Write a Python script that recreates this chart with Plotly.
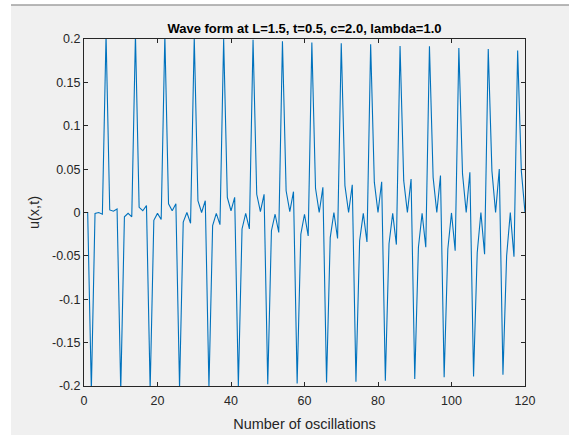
import plotly.graph_objects as go

# ---- data ----
x_vals = list(range(0, 121))
u_vals = [
    0.0, 0.0, -0.205, -0.001, 0.0, -0.002,
    0.205, 0.003, 0.0015, 0.004, -0.205, -0.005, -0.001, -0.005,
    0.205, 0.006, 0.002, 0.008, -0.204, -0.009, -0.001, -0.008,
    0.204, 0.010, 0.002, 0.010, -0.202, -0.011, 0.0, -0.0125,
    0.202, 0.0136, 0.0, 0.0136, -0.201, -0.015, -0.001, -0.014,
    0.200, 0.0175, 0.002, 0.0175, -0.200, -0.019, -0.001, -0.019,
    0.199, 0.021, 0.001, 0.021, -0.198, -0.021, -0.002, -0.023,
    0.1974, 0.025, 0.001, 0.024, -0.197, -0.025, -0.002, -0.027,
    0.196, 0.028, 0.0, 0.029, -0.196, -0.029, 0.0, -0.030,
    0.195, 0.031, 0.0, 0.032, -0.195, -0.0325, -0.001, -0.034,
    0.194, 0.035, 0.0, 0.0355, -0.194, -0.036, -0.001, -0.037,
    0.192, 0.0367, 0.0, 0.0386, -0.192, -0.040, -0.001, -0.040,
    0.1916, 0.0405, 0.0, 0.0425, -0.190, -0.042, -0.0005, -0.044,
    0.1897, 0.0445, 0.0, 0.0464, -0.189, -0.046, 0.0, -0.048,
    0.1885, 0.048, 0.0, 0.050, -0.187, -0.050, 0.0, -0.051,
    0.1866, 0.048, 0.0,
]
x_tick_vals = [0, 20, 40, 60, 80, 100, 120]
x_tick_text = ["0", "20", "40", "60", "80", "100", "120"]
y_tick_vals = [-0.2, -0.15, -0.1, -0.05, 0, 0.05, 0.1, 0.15, 0.2]
y_tick_text = ["-0.2", "-0.15", "-0.1", "-0.05", "0", "0.05", "0.1", "0.15", "0.2"]

title_text = "Wave form at L=1.5, t=0.5, c=2.0, lambda=1.0"
x_title = "Number of oscillations"
y_title = "u(x,t)"

# ---- layout geometry ----
W, H = 569, 435
ML, MR, MT, MB = 84, 44, 39, 49
PW, PH = W - ML - MR, H - MT - MB

def px_x(p):
    return (p - ML) / PW

def px_y(p):
    return (H - MB - p) / PH

FONT = "Liberation Sans, Arial, sans-serif"
AX = "#262626"

fig = go.Figure()
fig.add_trace(go.Scatter(
    x=x_vals, y=u_vals, mode="lines",
    line=dict(color="#0072BD", width=1.1),
    showlegend=False, hoverinfo="x+y",
))

axis_common = dict(
    showgrid=False, zeroline=False, showline=True, linecolor=AX, linewidth=1,
    mirror="ticks", ticks="inside", ticklen=4, tickwidth=1, tickcolor=AX,
    tickfont=dict(family=FONT, size=12.5, color=AX), automargin=False,
)

fig.update_layout(
    width=W, height=H,
    margin=dict(l=ML, r=MR, t=MT, b=MB, pad=0, autoexpand=False),
    paper_bgcolor="white",
    plot_bgcolor="white",
    title=dict(text="<b>" + title_text + "</b>", x=(ML + PW / 2) / W, xanchor="center",
               y=1 - 28 / H, yanchor="middle",
               font=dict(family=FONT, size=13, color="black")),
    xaxis=dict(range=[0, 120], tickvals=x_tick_vals, ticktext=x_tick_text,
               ticklabelstandoff=3,
               title=dict(text=x_title, font=dict(family=FONT, size=14.5, color=AX), standoff=11),
               **axis_common),
    yaxis=dict(range=[-0.2, 0.2], tickvals=y_tick_vals, ticktext=y_tick_text,
               title=dict(text=y_title, font=dict(family=FONT, size=14.5, color=AX), standoff=8),
               **axis_common),
    shapes=[
        dict(type="rect", xref="paper", yref="paper",
             x0=px_x(11), x1=px_x(W + 2), y0=px_y(H + 2), y1=px_y(5),
             fillcolor="#f0f0f0", line=dict(width=0), layer="below"),
        dict(type="line", xref="paper", yref="paper",
             x0=px_x(11), x1=px_x(W + 2), y0=px_y(5), y1=px_y(5),
             line=dict(color="#a0a0a0", width=1.5), layer="below"),
    ],
)

fig.write_html(
    "out.html",
    config={"displayModeBar": False},
    post_script="document.body.style.margin='0';document.body.style.overflow='hidden';",
)
